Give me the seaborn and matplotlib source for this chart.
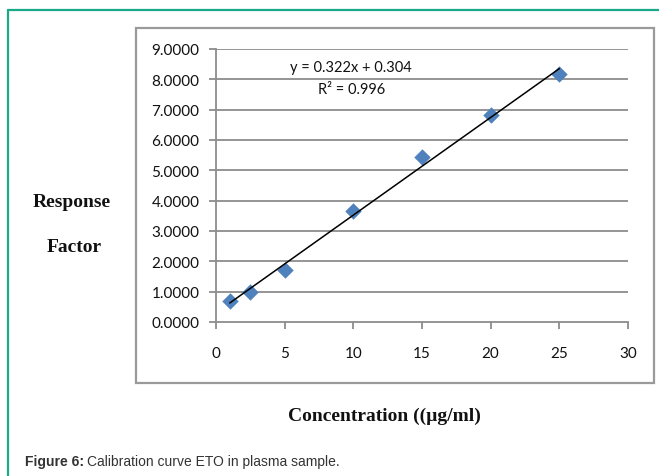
import matplotlib
matplotlib.use("Agg")
import matplotlib.pyplot as plt
import seaborn as sns
import numpy as np
import pandas as pd
from matplotlib.patches import Rectangle
from matplotlib.lines import Line2D

# Data
concentration = [1, 2.5, 5, 10, 15, 20, 25]
response_factor = [0.68, 0.98, 1.73, 3.65, 5.45, 6.81, 8.17]
slope = 0.322
intercept = 0.304
x_ticks = [0, 5, 10, 15, 20, 25, 30]
y_ticks = [0, 1, 2, 3, 4, 5, 6, 7, 8, 9]
equation_text = "y = 0.322x + 0.304"
r2_text = "R² = 0.996"

sns.set_theme(style="white")
plt.rcParams['font.family'] = ['Lato', 'DejaVu Sans']

fig = plt.figure(figsize=(6.59, 4.77), dpi=100)
W, H = 659, 477

def fx(px):
    return px / W

def fy(py):
    return 1 - py / H

# teal frame
fig.add_artist(Line2D([fx(8), fx(659)], [fy(11), fy(11)], color="#1aaa8a", lw=1.6))
fig.add_artist(Line2D([fx(8), fx(8)], [fy(11), fy(477)], color="#1aaa8a", lw=1.6))

# chart box
fig.add_artist(Rectangle((fx(136), fy(384)), fx(654) - fx(136), fy(29) - fy(384),
                         fill=False, edgecolor="#9a9a9a", lw=1.6))

ax = fig.add_axes([fx(216), fy(323), fx(628) - fx(216), fy(50) - fy(323)])

df = pd.DataFrame({"x": concentration, "y": response_factor})
trend = pd.DataFrame({"x": [concentration[0], concentration[-1]]})
trend["y"] = slope * trend["x"] + intercept

ax.set_xlim(0, 30)
ax.set_ylim(0, 9)
ax.set_xticks(x_ticks)
ax.set_yticks(y_ticks)
ax.set_xticklabels([str(t) for t in x_ticks])
ax.set_yticklabels([f"{t:.4f}" for t in y_ticks])

for t in y_ticks[1:]:
    ax.axhline(t, color="#8c8c8c", lw=1.3, zorder=1)

sns.lineplot(data=trend, x="x", y="y", ax=ax, color="black", lw=1.1, zorder=3)
sns.scatterplot(data=df, x="x", y="y", ax=ax, marker="D", s=70, color="#4f81bd",
                edgecolor="#4f81bd", linewidth=0, zorder=2)

for s in ["top", "right"]:
    ax.spines[s].set_visible(False)
for s in ["left", "bottom"]:
    ax.spines[s].set_color("#8c8c8c")
    ax.spines[s].set_linewidth(1.3)
ax.tick_params(axis="both", which="both", direction="out", length=5, width=1.3,
               color="#8c8c8c", labelsize=11, labelcolor="#111111")
ax.tick_params(axis="x", pad=12, bottom=True)
ax.tick_params(axis="y", pad=7, left=True)
ax.set_xlabel("")
ax.set_ylabel("")
ax.patch.set_alpha(0)

fig.text(fx(351), fy(68), equation_text, ha="center", va="center", fontsize=10.5, color="#111111")
fig.text(fx(352), fy(90), r2_text, ha="center", va="center", fontsize=10.5, color="#111111")

serif = ['Liberation Serif', 'DejaVu Serif']
fig.text(fx(72), fy(203), "Response", ha="center", va="center", fontsize=14,
         fontweight="bold", family=serif, color="#111111")
fig.text(fx(74), fy(247), "Factor", ha="center", va="center", fontsize=14,
         fontweight="bold", family=serif, color="#111111")
fig.text(fx(384), fy(416), "Concentration ((µg/ml)", ha="center", va="center", fontsize=14,
         fontweight="bold", family=serif, color="#111111")

sans = ['Liberation Sans', 'DejaVu Sans']
t1 = fig.text(fx(25), fy(462), "Figure 6:", ha="left", va="center", fontsize=10,
              fontweight="bold", family=sans, color="#333333")
fig.canvas.draw()
bb = t1.get_window_extent()
fig.text(bb.x1 / W + 0.005, fy(462), "Calibration curve ETO in plasma sample.", ha="left",
         va="center", fontsize=10, family=sans, color="#333333")

fig.savefig("out.png", dpi=100)
